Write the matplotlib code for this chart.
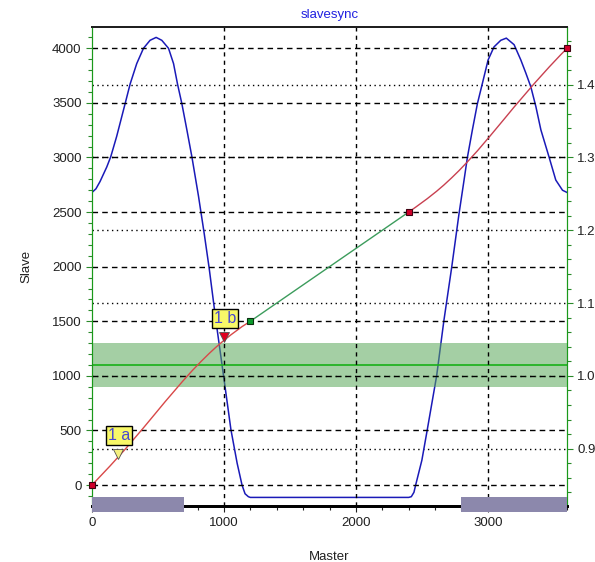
import matplotlib
matplotlib.use("Agg")
import matplotlib.pyplot as plt
from matplotlib.ticker import MultipleLocator, FormatStrFormatter

plt.rcParams['font.family'] = ['Liberation Sans', 'DejaVu Sans']

# ---- data ----
title = "slavesync"
x_label = "Master"
y_label = "Slave"

# cam position (Slave vs Master), first and last segments (red)
seg1_x = [0, 137, 245, 390, 478, 554, 686, 762, 825, 888, 939, 997, 1053, 1137, 1200]
seg1_y = [0, 175, 319, 524, 652, 763, 949, 1051, 1130, 1205, 1262, 1322, 1376, 1451, 1500]
seg3_x = [2400, 2453, 2541, 2612, 2667, 2726, 2781, 2845, 2921, 3017, 3128, 3199, 3351, 3465, 3550, 3600]
seg3_y = [2500, 2545, 2623, 2691, 2748, 2814, 2879, 2960, 3061, 3197, 3358, 3462, 3676, 3829, 3938, 4000]
# linear middle segment (green)
seg2_x = [1200, 2400]
seg2_y = [1500, 2500]

# velocity (right axis, blue)
vel_x = [0, 30, 61, 112, 142, 187, 251, 289, 339, 390, 440, 486, 529, 580, 618, 648, 681, 719, 757,
         807, 850, 888, 939, 997, 1053, 1100, 1137, 1160, 1185, 1200,
         2400, 2420, 2440, 2453, 2500, 2541, 2612, 2667, 2726, 2781, 2819, 2845, 2883, 2921, 2959, 3002,
         3047, 3098, 3140, 3199, 3250, 3288, 3326, 3364, 3402, 3465, 3515, 3566, 3600]
vel_y = [1.252, 1.257, 1.267, 1.287, 1.301, 1.329, 1.374, 1.401, 1.429, 1.450, 1.461, 1.465, 1.461,
         1.450, 1.429, 1.401, 1.374, 1.338, 1.301,
         1.247, 1.196, 1.148, 1.076, 1.000, 0.926, 0.880, 0.850, 0.838, 0.834, 0.833,
         0.833, 0.834, 0.840, 0.850, 0.884, 0.926, 1.000, 1.076, 1.149, 1.222, 1.268, 1.300, 1.338,
         1.374, 1.402, 1.434, 1.452, 1.461, 1.464, 1.455, 1.434, 1.416, 1.397, 1.370, 1.338, 1.300,
         1.269, 1.255, 1.252]

# segment end points
red_pts_x = [0, 2400, 3600]
red_pts_y = [0, 2500, 4000]
green_pts_x = [1200]
green_pts_y = [1500]

# events
ev_names = ["1 a", "1 b"]
ev_x = [200, 1000]
ev_y = [280, 1360]
ev_colors = ["#f4f080", "#e00020"]
lab_x = [205, 1006]
lab_y = [455, 1527]

# tolerance band
band_lo, band_hi, band_mid = 900, 1300, 1100

# bottom bars (master ranges)
bar_start = [0, 2800]
bar_end = [700, 3600]

left_ticks = list(range(0, 4001, 500))
right_ticks = [0.9, 1.0, 1.1, 1.2, 1.3, 1.4]
x_ticks = [1000, 2000, 3000]

# ---- figure ----
fig = plt.figure(figsize=(5.95, 5.62), dpi=100)
ax = fig.add_axes([92/595, 56/562, 475/595, 479.3/562])
ax2 = ax.twinx()
ax.set_zorder(ax2.get_zorder() + 1)
ax.patch.set_visible(False)

ax.set_xlim(0, 3600)
ax.set_ylim(-192, 4198)
ax2.set_ylim(0.8212, 1.4797)

# right axis: dotted grid + velocity
for t in right_ticks:
    ax2.axhline(t, color='black', lw=1.0, ls=(0, (1, 2.5)), zorder=1)
ax2.plot(vel_x, vel_y, color='#1a1ab8', lw=1.1, zorder=3)

# main axis
ax.axhspan(band_lo, band_hi, color='#5aa85a', alpha=0.55, lw=0, zorder=1)
ax.axhline(band_mid, color='#18b018', lw=1.2, zorder=2)
for t in left_ticks:
    ax.axhline(t, color='black', lw=1.0, ls=(0, (4, 3)), zorder=2)
for t in x_ticks:
    ax.axvline(t, color='black', lw=1.0, ls=(0, (3, 3)), zorder=2)

ax.plot(seg1_x, seg1_y, color='#d84848', lw=1.0, zorder=4)
ax.plot(seg3_x, seg3_y, color='#c84050', lw=1.0, zorder=4)
ax.plot(seg2_x, seg2_y, color='#3c9c5c', lw=1.0, zorder=4)
ax.plot(red_pts_x, red_pts_y, ls='none', marker='s', ms=5, mfc='#d0002a', mec='#400010', mew=0.8,
        zorder=6, clip_on=False)
ax.plot(green_pts_x, green_pts_y, ls='none', marker='s', ms=5, mfc='#0a9a2a', mec='#0a3010', mew=0.8,
        zorder=6)

for name, x, y, c, lx, ly in zip(ev_names, ev_x, ev_y, ev_colors, lab_x, lab_y):
    ax.plot([x], [y], ls='none', marker='v', ms=7, mfc=c, mec='#505050', mew=0.6, zorder=7)
    ax.text(lx, ly, name, ha='center', va='center', fontsize=11.5, color='#4848d0', zorder=8,
            bbox=dict(boxstyle='square,pad=0.12', fc='#f8f868', ec='black', lw=1.0))

for s, e in zip(bar_start, bar_end):
    ax.add_patch(plt.Rectangle((s, -0.013), e - s, 0.031, transform=ax.get_xaxis_transform(),
                               color='#8c88ac', lw=0, zorder=5, clip_on=False))

# ticks
ax.set_xticks([0] + x_ticks)
ax.xaxis.set_minor_locator(MultipleLocator(200))
ax.set_yticks(left_ticks)
ax.yaxis.set_minor_locator(MultipleLocator(100))
ax2.set_yticks(right_ticks)
ax2.yaxis.set_minor_locator(MultipleLocator(0.02))
ax2.yaxis.set_major_formatter(FormatStrFormatter('%.1f'))

for a in (ax, ax2):
    a.tick_params(axis='both', which='major', length=4, width=0.8, labelsize=9.5, colors='#202020')
    a.tick_params(axis='both', which='minor', length=3, width=0.8, colors='#202020')
ax.tick_params(axis='y', which='both', color='#2a8a2a')
ax2.tick_params(axis='y', which='both', color='#2a8a2a')
ax.tick_params(axis='x', pad=4)

for a in (ax, ax2):
    a.spines['left'].set_color('#1a9a1a')
    a.spines['right'].set_color('#1a9a1a')
    a.spines['top'].set_color('#202020')
    a.spines['top'].set_linewidth(1.4)
    a.spines['bottom'].set_color('black')
    a.spines['bottom'].set_linewidth(2.0)

ax.set_title(title, color='#2020e0', fontsize=9.5, pad=6)
ax.set_xlabel(x_label, fontsize=9.5, labelpad=16, color='#202020')
ax.set_ylabel(y_label, fontsize=9.5, labelpad=14, color='#202020')

fig.savefig('out.png', dpi=100, facecolor='white')
